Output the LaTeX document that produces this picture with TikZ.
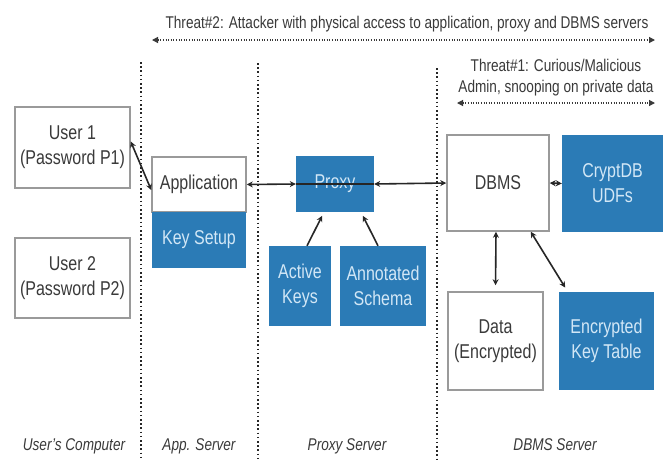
\documentclass[tikz,border=0pt]{standalone}
\usepackage{fontspec}
\setmainfont[FakeStretch=0.8]{Liberation Sans}
\usetikzlibrary{arrows.meta,calc}
\definecolor{cblue}{HTML}{2B7BB6}
\definecolor{cbtext}{HTML}{D2E7F6}
\definecolor{ctext}{HTML}{3A3A3A}
\definecolor{cborder}{HTML}{9A9A9A}
\definecolor{carrow}{HTML}{262626}
\begin{document}
\begin{tikzpicture}[x=1pt,y=-1pt,
  whitebox/.style={draw=cborder,line width=1.5pt,fill=white,inner sep=0pt,align=center,
    text=ctext,font=\fontsize{20}{25}\selectfont},
  bluebox/.style={fill=cblue,inner sep=0pt,align=center,text=cbtext,
    font=\fontsize{20}{25}\selectfont},
  conn/.style={draw=carrow,line width=1.6pt,{Stealth[length=6pt,width=6pt]}-{Stealth[length=6pt,width=6pt]}},
  threatarrow/.style={draw=ctext,line width=1.2pt,dash pattern=on 1pt off 1.6pt,
    {Triangle[length=6pt,width=6pt]}-{Triangle[length=6pt,width=6pt]}},
  sepline/.style={draw=carrow,line width=1.6pt,dash pattern=on 1.6pt off 2.6pt},
  threattext/.style={text=ctext,font=\fontsize{17}{21}\selectfont,align=center,inner sep=0pt},
  tier/.style={text=ctext,font=\fontsize{17}{21}\selectfont\itshape,inner sep=0pt,anchor=base}]
\useasboundingbox[fill=white] (0,0) rectangle (670,459);

% tier separators
\coordinate (v1t) at (141,62);  \coordinate (v1b) at (141,459);
\coordinate (v2t) at (258,63);  \coordinate (v2b) at (258,459);
\coordinate (v3t) at (437,68);  \coordinate (v3b) at (437,459);
\draw[sepline] (v1t) -- (v1b);
\draw[sepline] (v2t) -- (v2b);
\draw[sepline] (v3t) -- (v3b);

% threats
\node[threattext,anchor=base] (t2) at (407,28) {Threat\#2: Attacker with physical access to application, proxy and DBMS servers};
\coordinate (t2l) at (152,40); \coordinate (t2r) at (655,40);
\draw[threatarrow] (t2l) -- (t2r);
\node[threattext] (t1) at (556,78) {Threat\#1: Curious/Malicious\\Admin, snooping on private data};
\coordinate (t1l) at (457,103); \coordinate (t1r) at (655,103);
\draw[threatarrow] (t1l) -- (t1r);

% boxes
\node[whitebox,minimum width=115pt,minimum height=81pt] (user1) at (72.5,147.5) {User 1\\(Password P1)};
\node[whitebox,minimum width=115pt,minimum height=80pt] (user2) at (72.5,278) {User 2\\(Password P2)};
\node[whitebox,minimum width=94pt,minimum height=55pt] (app) at (199,184.5) {Application};
\node[bluebox,minimum width=94pt,minimum height=56pt] (keysetup) at (199,240) {Key Setup};
\node[bluebox,minimum width=78pt,minimum height=56pt] (proxy) at (335,184) {Proxy};
\node[bluebox,minimum width=62pt,minimum height=80pt] (activekeys) at (300,286) {Active\\Keys};
\node[bluebox,minimum width=86pt,minimum height=80pt] (schema) at (383,286) {Annotated\\Schema};
\node[whitebox,minimum width=102pt,minimum height=96pt] (dbms) at (498,183) {DBMS};
\node[bluebox,minimum width=101pt,minimum height=97pt] (udfs) at (612.5,183.5) {CryptDB\\UDFs};
\node[whitebox,minimum width=95pt,minimum height=98pt] (data) at (495.5,341) {Data\\(Encrypted)};
\node[bluebox,minimum width=95pt,minimum height=98pt] (ekt) at (606.5,341) {Encrypted\\Key Table};

% connectors
\draw[conn] ([yshift=6pt]user1.east) -- ([yshift=-5.5pt]app.west);
\draw[conn] (app.east) -- (proxy.west);
\draw[conn] (proxy.east) -- (dbms.west);
\draw[draw=carrow,line width=1.6pt] (proxy.west) -- (proxy.east);
\draw[draw=carrow,line width=1.6pt,-{Stealth[length=6pt,width=6pt]},shorten >=4pt] ([xshift=7pt]activekeys.north) -- ([xshift=-11pt]proxy.south);
\draw[draw=carrow,line width=1.6pt,-{Stealth[length=6pt,width=6pt]},shorten >=4pt] ([xshift=-5pt]schema.north) -- ([xshift=26pt]proxy.south);
\draw[conn] (dbms.east) -- (udfs.west);
\draw[conn,shorten >=6pt] ([xshift=-2pt]dbms.south) -- (data.north);
\draw[conn,shorten >=5pt] ([xshift=-19pt]dbms.south east) -- ([xshift=9pt]ekt.north west);

% tier labels
\node[tier] (lu) at (74,450) {User's Computer};
\node[tier] (la) at (199,450) {App. Server};
\node[tier] (lp) at (347,450) {Proxy Server};
\node[tier] (ld) at (555,450) {DBMS Server};
\end{tikzpicture}
\end{document}
